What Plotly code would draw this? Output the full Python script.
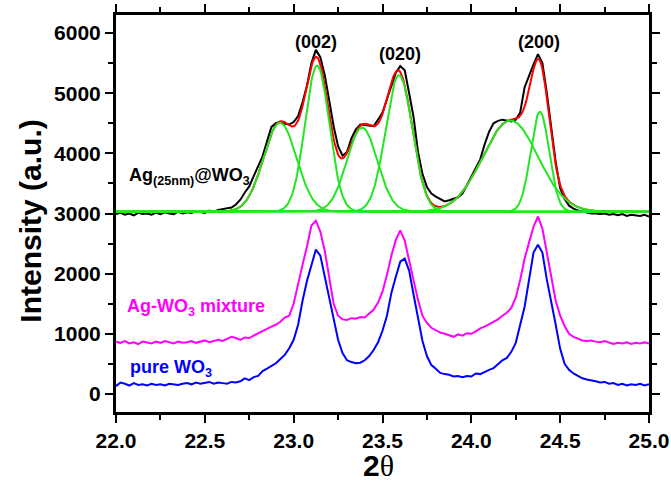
import plotly.graph_objects as go
import numpy as np

# ---------------- data ----------------
two_theta = [round(22.0 + 0.025 * i, 3) for i in range(121)]

ag_at_wo3 = [
    2990, 3010, 2980, 3000, 2970, 3010, 2990, 3000, 2980, 3010,
    2990, 3020, 3000, 2990, 3030, 3000, 3020, 3010, 3040, 3020,
    3010, 3050, 3030, 3060, 3070, 3080, 3100, 3150, 3230, 3350,
    3450, 3620, 3780, 3950, 4200, 4440, 4500, 4520, 4490, 4480,
    4520, 4620, 4850, 5130, 5500, 5720, 5600, 5300, 4880, 4450,
    4120, 3960, 4020, 4250, 4400, 4480, 4470, 4460, 4450, 4560,
    4680, 4900, 5130, 5340, 5450, 5380, 5000, 4600, 4020, 3660,
    3440, 3330, 3280, 3240, 3200, 3220, 3240, 3270, 3330, 3470,
    3620, 3760, 3900, 4150, 4360, 4500, 4540, 4560, 4550, 4530,
    4560, 4680, 5100, 5300, 5480, 5650, 5500, 5000, 4400, 3850,
    3420, 3240, 3130, 3080, 3050, 3030, 3010, 3000, 3000, 2990,
    3000, 2980, 2990, 2970, 2990, 2960, 2980, 2970, 2960, 2980,
    2950,
]

ag_wo3_mixture = [
    870, 850, 880, 840, 860, 830, 870, 850, 840, 870,
    850, 880, 860, 840, 870, 850, 860, 880, 850, 870,
    890, 860, 880, 900, 880, 910, 950, 930, 900, 940,
    930, 970, 1010, 1040, 1080, 1120, 1150, 1200, 1270, 1300,
    1500, 1850, 2150, 2450, 2800, 2880, 2700, 2380, 1950, 1500,
    1300, 1240, 1230, 1260, 1250, 1280, 1270, 1330, 1400, 1520,
    1700, 1980, 2300, 2560, 2720, 2550, 2230, 1900, 1560, 1300,
    1180, 1100, 1060, 1020, 1000, 970, 950, 990, 970, 1010,
    1000, 1040, 1090, 1120, 1160, 1200, 1240, 1300, 1350, 1430,
    1600, 1900, 2250, 2520, 2780, 2950, 2750, 2350, 1950, 1550,
    1300, 1130, 1000, 950, 920, 890, 880, 890, 870, 860,
    880, 850, 830, 850, 840, 860, 830, 850, 840, 860,
    840,
]

pure_wo3 = [
    130, 190, 170, 140, 180, 150, 160, 140, 170, 150,
    160, 140, 170, 160, 150, 170, 180, 160, 190, 170,
    180, 200, 170, 190, 180, 170, 200, 190, 210, 260,
    230, 280, 300, 380, 420, 460, 510, 580, 650, 760,
    900, 1150, 1550, 1880, 2150, 2400, 2300, 1950, 1600, 1200,
    900, 680, 560, 530, 510, 520, 560, 630, 730, 860,
    1050, 1300, 1680, 1950, 2200, 2250, 2050, 1650, 1230, 880,
    630, 480, 420, 350, 330, 320, 290, 300, 280, 300,
    290, 340, 330, 370, 400, 430, 500, 560, 600, 700,
    850, 1150, 1450, 1900, 2350, 2480, 2350, 1900, 1550, 1150,
    750, 500, 400, 340, 300, 260, 240, 230, 210, 190,
    200, 170, 180, 150, 170, 140, 160, 150, 170, 140,
    160,
]

# Gaussian fit components of the Ag@WO3 pattern (parameters)
fit_baseline = 3030
peak_centers = [22.923, 23.132, 23.385, 23.593, 24.220, 24.386]
peak_heights = [1480, 2430, 1400, 2270, 1515, 1660]   # above baseline
peak_sigmas = [0.093, 0.068, 0.086, 0.075, 0.155, 0.052]

peak_labels = ["(002)", "(020)", "(200)"]
peak_label_x = [23.125, 23.598, 24.383]
peak_label_y = [5850, 5650, 5850]

x_ticks = [22.0, 22.5, 23.0, 23.5, 24.0, 24.5, 25.0]
x_minor = [22.25, 22.75, 23.25, 23.75, 24.25, 24.75]
y_ticks = [0, 1000, 2000, 3000, 4000, 5000, 6000]
y_minor = [500, 1500, 2500, 3500, 4500, 5500]

# ---------------- figure ----------------
FONT = "Liberation Sans"
fig = go.Figure()

fig.add_trace(go.Scatter(x=two_theta, y=ag_at_wo3, mode="lines",
                         line=dict(color="#000000", width=2), showlegend=False))

grid = np.linspace(22.0, 25.0, 601)
fit_total = np.full_like(grid, float(fit_baseline))
components = []
for c, h, s in zip(peak_centers, peak_heights, peak_sigmas):
    g = h * np.exp(-((grid - c) ** 2) / (2 * s * s))
    components.append(fit_baseline + g)
    fit_total += g

fig.add_trace(go.Scatter(x=grid, y=fit_total, mode="lines",
                         line=dict(color="#ff0000", width=2), showlegend=False))
for comp in components:
    fig.add_trace(go.Scatter(x=grid, y=comp, mode="lines",
                             line=dict(color="#22e622", width=2), showlegend=False))

fig.add_trace(go.Scatter(x=two_theta, y=ag_wo3_mixture, mode="lines",
                         line=dict(color="#ff00ff", width=2), showlegend=False))
fig.add_trace(go.Scatter(x=two_theta, y=pure_wo3, mode="lines",
                         line=dict(color="#0000ff", width=2), showlegend=False))

annotations = []
for t, xx, yy in zip(peak_labels, peak_label_x, peak_label_y):
    annotations.append(dict(x=xx, y=yy, xref="x", yref="y", text="<b>%s</b>" % t,
                            showarrow=False, font=dict(family=FONT, size=18, color="#000000")))
annotations.append(dict(x=22.062, y=3620, xref="x", yref="y", xanchor="left",
                        text="<b>Ag<sub>(25nm)</sub>@WO<sub>3</sub></b>", showarrow=False,
                        font=dict(family=FONT, size=18, color="#000000")))
annotations.append(dict(x=22.05, y=1430, xref="x", yref="y", xanchor="left",
                        text="<b>Ag-WO<sub>3</sub> mixture</b>", showarrow=False,
                        font=dict(family=FONT, size=18, color="#ff00ff")))
annotations.append(dict(x=22.068, y=430, xref="x", yref="y", xanchor="left",
                        text="<b>pure WO<sub>3</sub></b>", showarrow=False,
                        font=dict(family=FONT, size=18, color="#0000ff")))
# axis titles
annotations.append(dict(x=0.4916, y=-0.136, xref="paper", yref="paper",
                        xanchor="center", yanchor="middle", showarrow=False,
                        text="<b>2</b><span style='font-family:Liberation Serif'>θ</span>",
                        font=dict(family=FONT, size=30, color="#000000")))
annotations.append(dict(x=-0.161, y=0.48, xref="paper", yref="paper",
                        xanchor="center", yanchor="middle", showarrow=False, textangle=-90,
                        text="<b>Intensity (a.u.)</b>",
                        font=dict(family=FONT, size=30, color="#000000")))

fig.update_layout(
    width=671, height=484,
    margin=dict(l=116, r=22, t=15, b=72),
    paper_bgcolor="white", plot_bgcolor="white",
    annotations=annotations,
    font=dict(family=FONT, color="#000000"),
)

fig.update_xaxes(
    range=[22.0, 25.0], tickvals=x_ticks, ticktext=["<b>%.1f</b>" % v for v in x_ticks],
    showgrid=False, zeroline=False, automargin=False,
    showline=True, linecolor="#000000", linewidth=3, mirror="ticks",
    ticks="outside", ticklen=8, tickwidth=2, tickcolor="#000000",
    minor=dict(tickvals=x_minor, ticks="outside",
               ticklen=5, tickwidth=2, tickcolor="#000000"),
    tickfont=dict(family=FONT, size=21, color="#000000"),
)
fig.update_yaxes(
    range=[-300, 6300], tickvals=y_ticks, ticktext=["<b>%d</b>" % v for v in y_ticks],
    showgrid=False, zeroline=False, automargin=False,
    showline=True, linecolor="#000000", linewidth=3, mirror="ticks",
    ticks="outside", ticklen=8, tickwidth=2, tickcolor="#000000",
    minor=dict(tickvals=y_minor, ticks="outside",
               ticklen=5, tickwidth=2, tickcolor="#000000"),
    tickfont=dict(family=FONT, size=21, color="#000000"),
)

fig.write_html("out.html")
